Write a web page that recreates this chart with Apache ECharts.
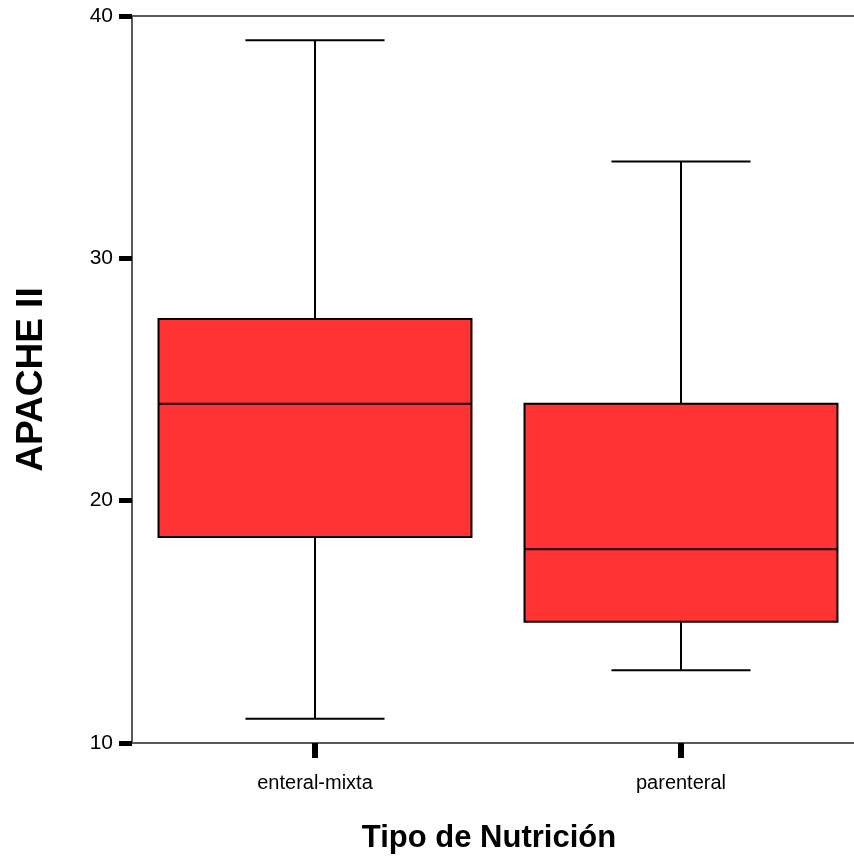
<!DOCTYPE html>
<html>
<head>
<meta charset="utf-8">
<script src="https://cdn.jsdelivr.net/npm/echarts@6/dist/echarts.min.js"></script>
<style>html,body{margin:0;padding:0;background:#fff;}#c{width:854px;height:865px;}</style>
</head>
<body>
<div id="c"></div>
<script>
var categories = ['enteral-mixta', 'parenteral'];
// [min, Q1, median, Q3, max]
var enteralMixta = [11, 18.5, 24, 27.5, 39];
var parenteral = [13, 15, 18, 24, 34];
var yTicks = [10, 20, 30, 40];
var xTitle = 'Tipo de Nutrición';
var yTitle = 'APACHE II';

var FONT = '"Liberation Sans", Arial, sans-serif';
var boxData = [enteralMixta, parenteral].map(function (v, i) { return [i].concat(v); });

var chart = echarts.init(document.getElementById('c'));
chart.setOption({
  backgroundColor: '#fff',
  animation: false,
  grid: { left: 132, width: 732, top: 16, height: 727, outerBoundsMode: 'none', containLabel: false, show: true, borderColor: '#5a5a5a', borderWidth: 2, backgroundColor: 'transparent' },
  xAxis: {
    type: 'category',
    data: categories,
    boundaryGap: true,
    name: xTitle,
    nameLocation: 'middle',
    nameGap: 80,
    nameTextStyle: { fontFamily: FONT, fontSize: 31, fontWeight: 'bold', color: '#000', padding: [0, 18, 0, 0] },
    axisLine: { show: true, lineStyle: { color: '#5a5a5a', width: 2 } },
    axisTick: { show: true, alignWithLabel: true, length: 15, lineStyle: { color: '#000', width: 6 } },
    axisLabel: { fontFamily: FONT, fontSize: 20, color: '#000', margin: 30 },
    splitLine: { show: false }
  },
  yAxis: {
    type: 'value',
    min: yTicks[0],
    max: yTicks[yTicks.length - 1],
    interval: 10,
    name: yTitle,
    nameLocation: 'middle',
    nameRotate: 90,
    nameGap: 82,
    nameTextStyle: { fontFamily: FONT, fontSize: 37, fontWeight: 'bold', color: '#000' },
    axisLine: { show: true, lineStyle: { color: '#5a5a5a', width: 2 } },
    axisTick: { show: true, length: 13, lineStyle: { color: '#000', width: 5 } },
    axisLabel: { fontFamily: FONT, fontSize: 21, color: '#000', margin: 19 },
    splitLine: { show: false }
  },
  series: [{
    type: 'custom',
    data: boxData,
    encode: { x: 0, y: [1, 2, 3, 4, 5] },
    renderItem: function (params, api) {
      var c = api.value(0);
      var pMin = api.coord([c, api.value(1)]);
      var pQ1 = api.coord([c, api.value(2)]);
      var pMed = api.coord([c, api.value(3)]);
      var pQ3 = api.coord([c, api.value(4)]);
      var pMax = api.coord([c, api.value(5)]);
      var band = api.size([1, 0])[0];
      var bw = band * 0.855;
      var cw = band * 0.38;
      var x = pMed[0];
      var ls = { stroke: '#000', lineWidth: 2, fill: null };
      return {
        type: 'group',
        children: [
          { type: 'line', shape: { x1: x, y1: pMax[1], x2: x, y2: pQ3[1] }, style: ls },
          { type: 'line', shape: { x1: x, y1: pQ1[1], x2: x, y2: pMin[1] }, style: ls },
          { type: 'line', shape: { x1: x - cw / 2, y1: pMax[1], x2: x + cw / 2, y2: pMax[1] }, style: ls },
          { type: 'line', shape: { x1: x - cw / 2, y1: pMin[1], x2: x + cw / 2, y2: pMin[1] }, style: ls },
          { type: 'rect', shape: { x: x - bw / 2, y: pQ3[1], width: bw, height: pQ1[1] - pQ3[1] }, style: { fill: '#ff3333', stroke: '#000', lineWidth: 2 } },
          { type: 'line', shape: { x1: x - bw / 2, y1: pMed[1], x2: x + bw / 2, y2: pMed[1] }, style: ls }
        ]
      };
    }
  }]
});
</script>
</body>
</html>
